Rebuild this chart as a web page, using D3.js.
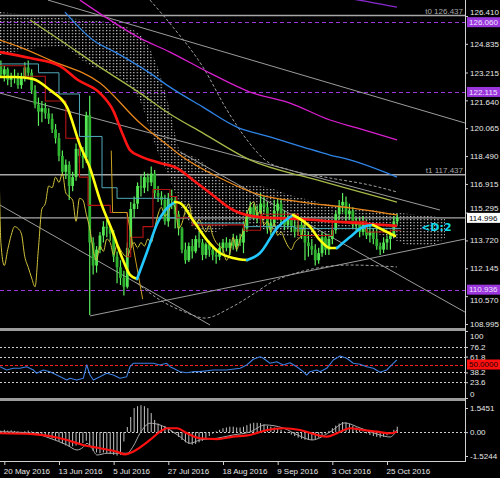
<!DOCTYPE html>
<html><head><meta charset="utf-8">
<script src="https://cdn.jsdelivr.net/npm/d3@7/dist/d3.min.js"></script>
<style>
html,body{margin:0;padding:0;background:#000;}
svg{display:block;}
</style></head><body>
<svg id="c" width="500" height="478"></svg>
<script>
// ---------- DATA ----------
const firstIndex = -2; // bar index of first candle (20 May 2016 = 0)
const opens = [
122.4,123.6,123.1,123.4,122.8,123.0,122.9,122.5,122.9,123.5,
123.2,122.2,121.4,121.0,121.2,120.9,120.6,120.0,119.5,118.5,
117.6,118.0,116.8,117.3,118.9,118.5,118.4,120.8,113.6,112.3,
113.2,114.0,114.5,114.4,114.1,112.8,112.2,111.6,111.1,113.3,
115.5,115.8,116.8,116.7,117.3,117.0,117.5,116.4,116.2,116.0,
114.8,116.1,116.0,115.2,114.4,113.2,112.6,113.4,113.1,113.8,
113.6,112.9,113.5,113.2,112.9,112.8,113.3,113.6,113.3,113.6,
113.4,113.8,113.6,114.4,115.2,115.6,115.1,115.3,115.8,115.6,
114.4,114.7,115.4,115.8,114.9,114.6,114.9,114.5,114.2,114.6,
114.0,113.6,113.4,113.2,112.6,113.0,113.9,113.2,113.8,114.3,
115.2,115.7,115.9,115.2,115.4,114.6,114.8,114.2,114.7,114.0,
114.2,113.8,113.4,113.2,113.6,113.8,114.0,114.8];
const highs = [
123.8,123.9,123.6,123.5,123.2,123.4,123.2,123.2,123.8,123.9,
123.4,122.5,121.8,121.6,121.5,121.2,120.9,120.3,119.8,118.8,
118.3,118.2,117.6,119.2,119.4,119.0,121.0,121.9,113.9,113.4,
114.2,114.8,114.9,114.6,114.3,113.1,112.6,112.0,113.6,115.9,
116.2,117.0,117.4,117.6,117.5,117.9,117.7,116.8,116.5,116.3,
116.4,116.6,116.2,115.4,114.5,113.6,113.6,113.8,114.0,114.2,
113.8,113.6,113.7,113.4,113.2,113.6,113.8,113.9,113.8,114.1,
114.0,114.1,114.8,115.4,115.9,115.8,115.7,116.4,116.2,115.9,
115.1,116.0,116.1,116.0,115.4,115.2,115.1,114.9,114.9,114.8,
114.9,114.2,113.8,113.5,113.3,114.2,114.1,114.1,114.5,115.4,
116.0,116.4,116.2,115.8,115.6,115.0,115.0,115.1,114.9,114.6,
114.4,114.6,113.6,113.9,114.0,114.2,115.1,115.2];
const lows = [
122.2,122.9,122.7,122.5,122.4,122.6,122.3,122.3,122.7,122.9,
122.0,121.2,120.2,120.4,120.6,120.3,119.8,119.2,118.2,117.4,
117.2,116.0,116.5,117.1,118.1,117.8,118.1,109.5,111.8,111.9,
113.0,113.6,113.9,113.7,112.5,111.3,111.2,110.6,111.0,113.2,
115.0,115.5,116.2,116.4,116.5,116.8,116.1,115.9,115.7,114.6,
114.5,115.5,114.4,114.0,113.0,112.4,112.5,112.7,113.0,113.3,
112.6,112.7,112.8,112.6,112.4,112.6,113.0,113.1,112.9,113.2,
113.1,113.4,113.0,114.2,115.0,114.9,114.7,114.6,115.3,114.1,
114.0,114.5,115.1,114.6,114.3,114.4,114.2,113.9,114.0,113.8,
112.6,112.8,112.9,112.3,112.4,112.8,112.9,112.9,113.5,114.1,
114.9,115.3,114.7,114.9,114.4,114.2,113.9,114.0,113.8,113.6,
113.5,113.2,112.9,113.0,113.2,113.2,113.9,114.6];
const closes = [
123.6,123.1,123.4,122.8,123.0,122.9,122.5,122.9,123.5,123.2,
122.2,121.4,121.0,121.2,120.9,120.6,120.0,119.5,118.5,117.6,
118.0,116.8,117.3,118.9,118.5,118.4,120.8,113.6,112.3,113.2,
114.0,114.5,114.4,114.1,112.8,112.2,111.6,111.1,113.3,115.5,
115.8,116.8,116.7,117.3,117.0,117.5,116.4,116.2,116.0,114.8,
116.1,116.0,115.2,114.4,113.2,112.6,113.4,113.1,113.8,113.6,
112.9,113.5,113.2,112.9,112.8,113.3,113.6,113.3,113.6,113.4,
113.8,113.6,114.4,115.2,115.6,115.1,115.3,115.8,115.6,114.4,
114.7,115.4,115.8,114.9,114.6,114.9,114.5,114.2,114.6,114.0,
113.6,113.4,113.2,112.6,113.0,113.9,113.2,113.8,114.3,115.2,
115.7,115.9,115.2,115.4,114.6,114.8,114.2,114.7,114.0,114.2,
113.8,113.4,113.2,113.6,113.8,114.0,114.8,115.0];
const chikouShift = 26;

const dateTickIdx = [0,16,32,48,64,80,96,112];
const dateLabels = ["20 May 2016","13 Jun 2016","5 Jul 2016","27 Jul 2016","18 Aug 2016","9 Sep 2016","3 Oct 2016","25 Oct 2016"];
const priceTicks = [126.410,124.835,123.215,121.640,120.065,118.490,116.915,115.295,113.720,112.145,110.570,108.995];
const rsiTicks = [100,76.2,61.8,38.2,23.6,0];
const rsiLevels = [76.2,61.8,38.2,23.6];
const rsiMid = 50;
const macdTicks = [1.5451,0,-1.5244];

// Ichimoku cloud
const cloudIdx = [-1.26,7.52,16.30,25.08,33.86,39.71,44.10,48.49,51.42,57.27,61.66,66.05,71.90,77.76,83.61,89.47,95.32,101.17,107.02,112.88,118.73,124.58,128.97];
const cloudTop = [126.63,126.46,126.29,126.18,125.90,125.33,123.92,121.09,118.83,118.27,117.42,116.86,116.86,116.68,116.29,116.00,115.72,115.55,115.44,115.33,115.21,115.10,114.99];
const cloudBottom = [124.20,124.55,124.70,123.60,122.90,121.60,119.11,117.14,115.72,114.20,114.20,114.59,114.59,114.20,113.91,113.86,114.20,114.31,114.20,113.86,113.46,113.46,113.86];

// Moving averages
const purpleMaIdx = [98.25,107.02,114.92];
const purpleMaVal = [127.48,127.20,126.91];
const magentaMaIdx = [22.15,30.93,39.71,48.49,60.20,71.90,83.61,95.32,103.22,114.92];
const magentaMaVal = [127.31,126.18,125.16,124.37,123.18,122.11,121.49,120.53,120.08,119.40];
const blueMaIdx = [17.76,25.96,32.98,42.64,48.49,58.15,68.10,77.76,87.42,95.32,101.17,114.92];
const blueMaVal = [126.63,125.05,124.31,123.18,122.39,121.26,120.13,119.57,119.00,118.55,118.27,117.30];
const oliveMaIdx = [7.52,16.30,28.01,39.71,48.49,58.15,71.90,91.51,114.92];
const oliveMaVal = [126.18,125.05,123.52,122.05,120.87,119.79,118.27,117.14,115.89];
const orangeMaIdx = [-1.26,4.59,13.37,28.01,39.71,48.49,51.42,63.13,74.83,86.54,101.17,114.92];
const orangeMaVal = [125.05,124.65,123.92,122.62,120.36,119.00,118.55,117.25,116.29,115.90,115.56,115.16];
const redMaIdx = [-1.26,7.52,16.30,21.57,28.01,31.81,34.74,36.79,39.71,45.57,50.54,55.22,60.20,66.93,74.83,86.54,98.25,107.02,114.92];
const redMaVal = [124.37,124.03,123.58,122.79,122.05,121.09,119.68,118.83,118.49,118.10,117.81,117.14,116.40,115.44,115.04,114.93,114.76,114.65,114.54];
const fastMaIdx = [-1.26,3.13,8.40,13.37,18.35,22.15,25.08,28.01,31.81,34.74,36.79,38.84,41.76,44.69,47.61,49.96,51.42,55.22,59.32,63.13,66.93,71.03,74.83,79.81,84.49,89.47,92.39,95.32,97.37,101.17,104.98,107.90,110.83,114.34];
const fastMaVal = [122.96,122.96,122.85,122.22,121.26,119.11,117.81,116.00,114.14,112.61,111.77,111.54,113.07,114.65,115.55,115.89,115.84,114.87,113.74,113.01,112.73,112.61,113.01,114.42,115.16,114.48,113.74,113.29,113.29,113.91,114.48,114.59,114.31,113.97];
const kijunIdx = [-2,10,16,22,28.6,33,48,55,70,85,98,116];
const kijunVal = [123.7,123.2,122.0,119.6,116.7,116.1,115.0,114.7,114.5,114.4,114.4,114.4];
const tenkanIdx = [-2,6,12,18,22,24.5,31,36,37,40.6,43.5,48.5,50.5,55,70,75,86,96,106,113,116];
const tenkanVal = [123.6,123.0,121.6,119.5,117.3,115.7,115.3,112.8,113.9,114.5,116.6,116.2,115.0,114.6,114.3,115.2,114.0,114.8,114.2,114.3,114.3];
const goldStepIdx = [31.3,31.7,35.9,40.5];
const goldStepVal = [118.8,115.3,115.3,110.4];
const upperBandIdx = [42.64,49.37,58.15,65.18,71.03,76.30,83.61,95.32,107.02,114.92];
const upperBandVal = [127.31,125.78,123.52,121.09,119.40,118.27,117.70,117.25,116.85,116.46];
const lowerBandIdx = [38.84,45.57,52.88,58.74,66.05,73.37,77.76,83.61,91.51,101.17,114.92];
const lowerBandVal = [111.31,110.35,109.67,109.33,109.90,110.75,111.31,111.77,112.16,112.33,112.22];

// Trend lines
const trendStartIdx = [12.79,-1.26,-1.26,51.42,25.08];
const trendStartVal = [127.31,115.72,122.05,118.72,109.45];
const trendEndIdx = [134.8,60.2,127.5,134.8,134.8];
const trendEndVal = [120.36,108.94,115.44,109.67,113.80];

// Horizontal levels
const timeLevelVals = [126.437,117.437];
const timeLevelLabels = ["t0 126.437","t1 117.437"];
const purpleLevels = [126.060,122.115,110.936];
const currentPrice = 114.996;
const signalText = "<D:2";
const signalIdx = 122, signalVal = 114.25;

// RSI
const rsiIdx = [-1.26,0.70,2.63,4.59,6.56,8.49,9.48,11.41,13.37,15.34,17.27,18.26,19.23,21.19,23.12,24.11,25.08,26.05,28.01,29.97,31.90,33.86,35.82,36.79,37.75,39.71,41.67,43.61,45.57,47.53,48.49,49.46,51.42,53.38,55.31,57.27,61.17,65.09,69.01,70.94,72.87,74.83,75.80,77.76,79.72,81.65,83.61,85.57,87.50,88.50,89.47,91.43,92.39,94.35,96.28,98.25,100.21,102.14,104.10,106.06,108.00,109.95,111.91,113.84,114.84];
const rsiVal = [46.7,41.8,44.3,44.3,46.7,41.8,36.9,41.8,39.3,34.3,29.4,26.9,29.4,26.9,29.4,49.3,34.3,26.9,31.8,36.9,34.3,29.4,31.8,46.7,51.8,51.8,51.8,51.8,49.3,51.8,46.7,44.3,39.3,37.8,39.3,39.3,41.8,41.8,44.3,49.3,57.8,61.6,59.3,51.8,54.2,49.3,52.7,46.7,39.3,34.3,39.3,41.8,39.3,44.3,56.7,62.7,59.3,51.8,50.3,46.7,44.3,38.4,41.8,51.8,56.7];

// MACD
const macdHist = [
0.08,0.10,0.15,0.10,0.12,0.08,0.05,0.02,0.06,0.10,
0.05,-0.05,-0.12,-0.18,-0.25,-0.32,-0.40,-0.50,-0.60,-0.72,
-0.85,-0.95,-0.90,-0.85,-0.78,-0.70,-0.55,-0.95,-1.20,-1.30,
-1.35,-1.30,-1.35,-1.40,-1.45,-1.50,-1.45,-0.60,0.33,0.97,
1.54,1.66,1.72,1.66,1.54,1.22,0.78,0.55,0.45,0.40,
0.30,0.10,-0.10,-0.30,-0.50,-0.65,-0.75,-0.80,-0.75,-0.65,
-0.55,-0.40,-0.25,-0.10,0.05,0.15,0.25,0.30,0.35,0.35,
0.30,0.30,0.35,0.45,0.55,0.60,0.60,0.58,0.50,0.40,
0.35,0.30,0.25,0.15,0.05,-0.05,-0.15,-0.25,-0.35,-0.42,
-0.48,-0.50,-0.50,-0.45,-0.35,-0.20,-0.08,0.08,0.25,0.42,
0.55,0.65,0.62,0.52,0.42,0.30,0.15,0.05,-0.08,-0.18,
-0.25,-0.30,-0.35,-0.30,-0.20,-0.05,0.15,0.35];
const signalIdxArr = [-1.26,8.40,13.37,18.35,23.03,28.01,32.98,35.32,37.66,42.64,45.57,47.61,50.54,53.47,57.27,62.25,66.93,71.90,76.88,81.56,86.54,91.51,94.44,97.37,101.17,104.98,109.08,112.88,114.92];
const signalValArr = [-0.07,-0.12,-0.25,-0.50,-0.82,-1.03,-1.25,-1.42,-1.25,-0.50,0.03,0.25,0.25,-0.07,-0.39,-0.44,-0.29,-0.18,0.14,0.25,0.14,-0.18,-0.29,-0.07,0.25,0.14,0.03,-0.07,0.03];
const macdLineIdx = [-1.26,8.40,13.37,18.35,21.28,23.03,24.20,25.66,27.13,30.05,32.98,35.91,37.66,39.71,42.64,45.57,48.49,51.42,54.35,57.27,62.25,66.93,71.90,76.30,81.56,86.54,90.05,95.32,99.71,104.10,109.95,112.88,114.92];
const macdLineVal = [0.03,-0.07,-0.39,-0.82,-1.14,-0.97,-0.71,-1.03,-1.46,-1.35,-1.35,-1.35,-0.93,-0.07,0.57,0.46,0.14,-0.29,-0.71,-0.50,-0.39,-0.18,0.01,0.46,0.27,-0.25,-0.50,0.01,0.59,0.27,-0.18,-0.31,0.14];

// ---------- SCALES ----------
const x = d3.scaleLinear().domain([0,112]).range([4.3,387]);
const y = d3.scaleLinear().domain([108.995,126.410]).range([324,16]);
const yRsi = d3.scaleLinear().domain([0,100]).range([398,331]);
const yMacd = d3.scaleLinear().domain([-1.5244,1.5451]).range([456,408]);
const AX = 465;
const FONT = "Liberation Sans, Arial, sans-serif";

const svg = d3.select("#c");
const defs = svg.append("defs");
defs.append("clipPath").attr("id","clipMain").append("rect").attr("x",0).attr("y",0).attr("width",AX).attr("height",328);
defs.append("clipPath").attr("id","clipRsi").append("rect").attr("x",0).attr("y",331).attr("width",AX).attr("height",67);
defs.append("clipPath").attr("id","clipMacd").append("rect").attr("x",0).attr("y",401).attr("width",AX).attr("height",60);
const barStep = x(1) - x(0);
const pat = defs.append("pattern").attr("id","dots").attr("width",barStep).attr("height",3).attr("patternUnits","userSpaceOnUse");
pat.append("rect").attr("width",1.2).attr("height",1.3).attr("fill","#c4c4c4");

svg.append("rect").attr("width",500).attr("height",478).attr("fill","#000");

const main = svg.append("g").attr("clip-path","url(#clipMain)");

function pts(ia, va){ return ia.map((d,i)=>[d,va[i]]); }
function drawLine(g, ia, va, ys, color, width, dash, curve){
  g.append("path").datum(pts(ia,va))
    .attr("d", d3.line().x(p=>x(p[0])).y(p=>ys(p[1])).curve(curve||d3.curveMonotoneX))
    .attr("fill","none").attr("stroke",color).attr("stroke-width",width)
    .attr("stroke-dasharray",dash||null).attr("stroke-linejoin","round");
}

// cloud
main.append("path").datum(cloudIdx)
  .attr("d", d3.area().x((d,i)=>x(cloudIdx[i])).y0((d,i)=>y(cloudBottom[i])).y1((d,i)=>y(cloudTop[i])).curve(d3.curveMonotoneX))
  .attr("fill","url(#dots)");

// purple dashed levels
main.selectAll("line.pl").data(purpleLevels).join("line")
  .attr("x1",0).attr("x2",AX).attr("y1",d=>Math.round(y(d))+0.5).attr("y2",d=>Math.round(y(d))+0.5)
  .attr("stroke","#9b35dc").attr("stroke-width",1).attr("stroke-dasharray","4,3");

// time levels + current price
main.selectAll("line.tl").data(timeLevelVals.concat([currentPrice])).join("line")
  .attr("x1",0).attr("x2",AX).attr("y1",d=>y(d)).attr("y2",d=>y(d))
  .attr("stroke","#a8a8a8").attr("stroke-width",1.4);

// trend lines
main.selectAll("line.tr").data(trendStartIdx).join("line")
  .attr("x1",(d,i)=>x(trendStartIdx[i])).attr("y1",(d,i)=>y(trendStartVal[i]))
  .attr("x2",(d,i)=>x(trendEndIdx[i])).attr("y2",(d,i)=>y(trendEndVal[i]))
  .attr("stroke","#9c9c9c").attr("stroke-width",1);

// bands
drawLine(main, upperBandIdx, upperBandVal, y, "#a0a0a0", 1, "3,2");
drawLine(main, lowerBandIdx, lowerBandVal, y, "#a0a0a0", 1, "3,2");

// candles
const bars = closes.map((c,i)=>({i:i+firstIndex,o:opens[i],h:highs[i],l:lows[i],c:c}));
const cg = main.append("g");
cg.selectAll("line").data(bars).join("line")
  .attr("x1",d=>x(d.i)).attr("x2",d=>x(d.i)).attr("y1",d=>y(d.h)).attr("y2",d=>y(d.l))
  .attr("stroke","#5cf05c").attr("stroke-width",1.2);
cg.selectAll("rect").data(bars).join("rect")
  .attr("x",d=>x(d.i)-1.4).attr("width",2.8)
  .attr("y",d=>y(Math.max(d.o,d.c))).attr("height",d=>Math.max(1,Math.abs(y(d.o)-y(d.c))))
  .attr("fill",d=>d.c>=d.o?"#52e652":"#2fb52f");

// long MAs
drawLine(main, purpleMaIdx, purpleMaVal, y, "#8a2ad0", 1.3);
drawLine(main, magentaMaIdx, magentaMaVal, y, "#d81fd0", 1.3);
drawLine(main, blueMaIdx, blueMaVal, y, "#2f84e6", 1.3);
drawLine(main, oliveMaIdx, oliveMaVal, y, "#a6b848", 1.3);
drawLine(main, orangeMaIdx, orangeMaVal, y, "#e8861a", 1.3);

// chikou span (closes shifted back)
const chikou = closes.map((c,i)=>[i+firstIndex-chikouShift, c]);
main.append("path").datum(chikou)
  .attr("d", d3.line().x(p=>x(p[0])).y(p=>y(p[1])).curve(d3.curveMonotoneX))
  .attr("fill","none").attr("stroke","#d2c43c").attr("stroke-width",1);

// tenkan / kijun / gold step lines
drawLine(main, kijunIdx, kijunVal, y, "#4fa9b8", 1, null, d3.curveStepAfter);
drawLine(main, tenkanIdx, tenkanVal, y, "#b81414", 1.1, null, d3.curveStepAfter);
drawLine(main, goldStepIdx, goldStepVal, y, "#c8a020", 1, null, d3.curveLinear);

// red thick MA
drawLine(main, redMaIdx, redMaVal, y, "#ff1414", 2.6);

// fast MA coloured by direction
(function(){
  const p = pts(fastMaIdx, fastMaVal);
  const runs = [];
  let cur = null;
  for (let i=1;i<p.length;i++){
    const up = p[i][1] > p[i-1][1];
    if (!cur || cur.up !== up){ cur = {up:up, pts:[p[i-1]]}; runs.push(cur); }
    cur.pts.push(p[i]);
  }
  runs.forEach(r=>{
    main.append("path").datum(r.pts)
      .attr("d", d3.line().x(q=>x(q[0])).y(q=>y(q[1])).curve(d3.curveMonotoneX))
      .attr("fill","none").attr("stroke", r.up ? "#22c8ff" : "#ffff10").attr("stroke-width",2.6)
      .attr("stroke-linecap","round");
  });
})();

// time level labels
main.selectAll("text.tl").data(timeLevelVals).join("text")
  .attr("x",AX-2).attr("y",d=>y(d)-2).attr("text-anchor","end")
  .attr("font-family",FONT).attr("font-size",8).attr("fill","#a8a8a8")
  .text((d,i)=>timeLevelLabels[i]);

// signal label
main.append("text").attr("x",x(signalIdx)).attr("y",y(signalVal))
  .attr("font-family","DejaVu Sans, sans-serif").attr("font-weight","bold").attr("font-size",11)
  .attr("fill","#10d8e8").text(signalText);

// ---------- RSI ----------
const rsiG = svg.append("g").attr("clip-path","url(#clipRsi)");
rsiG.selectAll("line.lv").data(rsiLevels).join("line")
  .attr("x1",0).attr("x2",AX).attr("y1",d=>Math.round(yRsi(d))+0.5).attr("y2",d=>Math.round(yRsi(d))+0.5)
  .attr("stroke","#cfcfcf").attr("stroke-width",1).attr("stroke-dasharray","2,2");
rsiG.append("line").attr("x1",0).attr("x2",AX).attr("y1",Math.round(yRsi(rsiMid))+0.5).attr("y2",Math.round(yRsi(rsiMid))+0.5)
  .attr("stroke","#ff2020").attr("stroke-width",1).attr("stroke-dasharray","3,2");
drawLine(rsiG, rsiIdx, rsiVal, yRsi, "#3d7fe0", 1.1, null, d3.curveLinear);

// ---------- MACD ----------
const macdG = svg.append("g").attr("clip-path","url(#clipMacd)");
macdG.append("line").attr("x1",0).attr("x2",AX).attr("y1",Math.round(yMacd(0))+0.5).attr("y2",Math.round(yMacd(0))+0.5)
  .attr("stroke","#cfcfcf").attr("stroke-dasharray","2,2");
macdG.selectAll("line.h").data(macdHist).join("line")
  .attr("x1",(d,i)=>x(i+firstIndex)).attr("x2",(d,i)=>x(i+firstIndex))
  .attr("y1",yMacd(0)).attr("y2",d=>yMacd(d))
  .attr("stroke","#c4c4c4").attr("stroke-width",1);
drawLine(macdG, macdLineIdx, macdLineVal, yMacd, "#a8a8a8", 1, null, d3.curveMonotoneX);
drawLine(macdG, signalIdxArr, signalValArr, yMacd, "#ff1010", 2.2, null, d3.curveMonotoneX);

// ---------- FRAME ----------
svg.append("rect").attr("x",0).attr("y",328).attr("width",AX+1).attr("height",3).attr("fill","#9c9c9c");
svg.append("rect").attr("x",0).attr("y",398).attr("width",AX+1).attr("height",3).attr("fill","#9c9c9c");
svg.append("line").attr("x1",AX+0.5).attr("x2",AX+0.5).attr("y1",0).attr("y2",462).attr("stroke","#d0d0d0");
svg.append("line").attr("x1",0).attr("x2",AX+1).attr("y1",461.5).attr("y2",461.5).attr("stroke","#d0d0d0");

function styleAxis(g){
  g.select(".domain").remove();
  g.attr("font-family",FONT).attr("font-size",8);
  g.selectAll("line").attr("stroke","#d0d0d0");
  g.selectAll("text").attr("fill","#e8e8e8");
}
// boxes that sit on the price axis (value, scale)
const boxed = purpleLevels.map(v=>y(v)).concat([y(currentPrice)]);
const axP = svg.append("g").attr("transform",`translate(${AX},0)`)
  .call(d3.axisRight(y).tickValues(priceTicks).tickFormat(d3.format(".3f")).tickSize(3).tickPadding(2));
styleAxis(axP);
// nudge tick labels that would sit under a highlighted box
axP.selectAll("text").attr("dy", d=>{
  const ty = y(d);
  for (const by of boxed){
    const diff = ty - by;
    if (Math.abs(diff) < 10) return (diff < 0 ? (diff + 10 - 0.0) * -1 : (10 - diff)) / 8 + 0.32 + "em";
  }
  return "0.32em";
});
const axRsi = svg.append("g").attr("transform",`translate(${AX},0)`)
  .call(d3.axisRight(yRsi).tickValues(rsiTicks).tickFormat(d3.format("~g")).tickSize(3).tickPadding(2));
styleAxis(axRsi);
axRsi.selectAll("text").attr("dy",d=>d===100?"0.95em":(d===0?"-0.25em":"0.32em"));
const axM = svg.append("g").attr("transform",`translate(${AX},0)`)
  .call(d3.axisRight(yMacd).tickValues(macdTicks).tickFormat(d=>d===0?"0.00":String(d)).tickSize(3).tickPadding(2));
styleAxis(axM);
const axB = svg.append("g").attr("transform","translate(0,461)")
  .call(d3.axisBottom(x).tickValues(dateTickIdx).tickFormat((d,i)=>dateLabels[i]).tickSize(4));
styleAxis(axB);
axB.selectAll("text").attr("text-anchor","start").attr("x",-1);

// highlighted price boxes
function priceBox(v, ys, label, bg, fg){
  const g = svg.append("g");
  g.append("rect").attr("x",AX+2).attr("y",ys(v)-5).attr("width",500-AX-2).attr("height",10).attr("fill",bg);
  g.append("text").attr("x",AX+4).attr("y",ys(v)).attr("dy","0.35em")
    .attr("font-family",FONT).attr("font-size",8).attr("fill",fg).text(label);
}
purpleLevels.forEach(v=>priceBox(v, y, d3.format(".3f")(v), "#9b35dc", "#f0e6ff"));
priceBox(currentPrice, y, d3.format(".3f")(currentPrice), "#ffffff", "#000000");
priceBox(rsiMid, yRsi, d3.format(".4f")(rsiMid), "#ff1010", "#200000");
</script>
</body></html>
